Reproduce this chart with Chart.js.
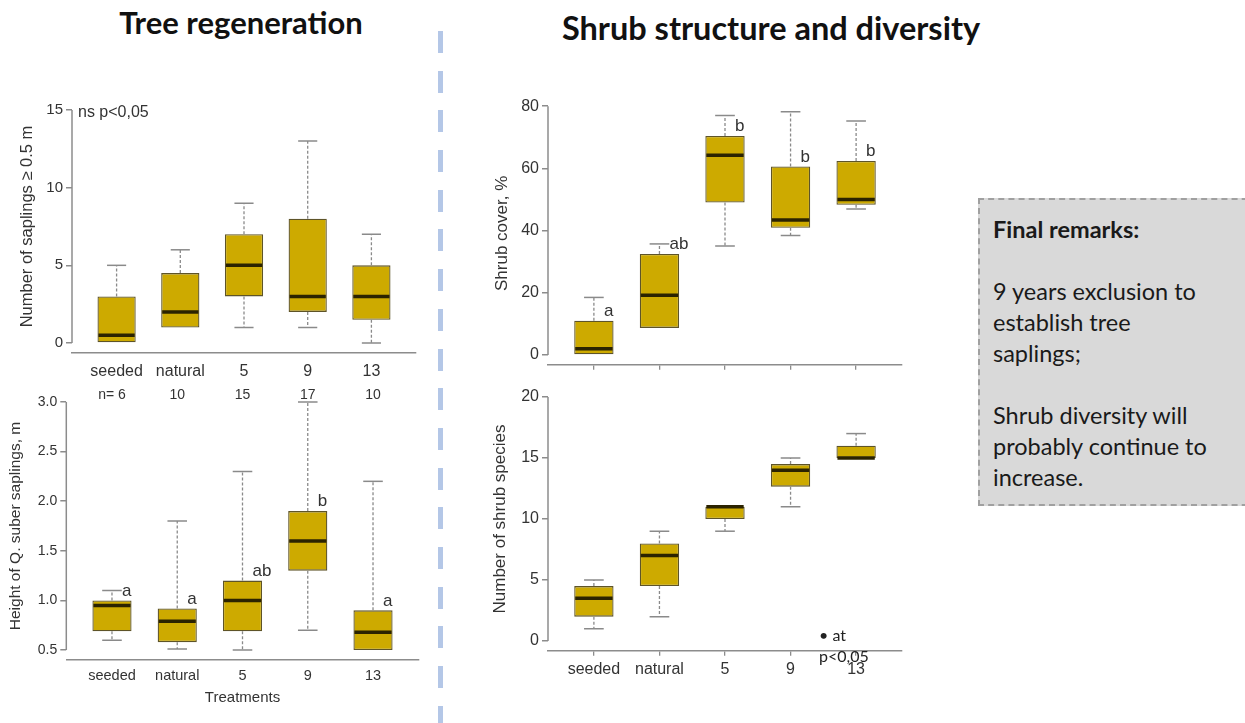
<!DOCTYPE html>
<html><head><meta charset="utf-8">
<script src="https://cdn.jsdelivr.net/npm/chart.js@4.4.1/dist/chart.umd.min.js"></script>
<style>
html,body{margin:0;padding:0;background:#fff;}
#page{position:relative;width:1245px;height:723px;overflow:hidden;background:#fff;font-family:"Liberation Sans",Arial,sans-serif;}
canvas.full{position:absolute;left:0;top:0;}
.title{position:absolute;font-family:Lato,"Open Sans",sans-serif;font-weight:700;color:#111;white-space:nowrap;transform:translate(-50%,-50%);}
#sep{position:absolute;left:438px;top:31px;width:5px;height:692px;background:repeating-linear-gradient(to bottom,#b4c7e7 0,#b4c7e7 22px,transparent 22px,transparent 39.7px);}
#remarks{position:absolute;left:978px;top:198px;width:290px;height:308px;box-sizing:border-box;background:#d9d9d9;border:2px dashed #a0a0a0;padding:14px 0 0 13px;font-family:Lato,"Open Sans",sans-serif;font-size:23.5px;line-height:31px;color:#1a1a1a;white-space:pre-line;}
.note{position:absolute;color:#333;white-space:nowrap;}
</style></head>
<body>
<div id="page">
  <div class="title" style="left:241px;top:22px;font-size:31px;">Tree regeneration</div>
  <div class="title" style="left:771px;top:27px;font-size:32.5px;">Shrub structure and diversity</div>
  <div id="sep"></div>
  <canvas class="full" id="c1" width="1245" height="723"></canvas>
  <canvas class="full" id="c2" width="1245" height="723"></canvas>
  <canvas class="full" id="c3" width="1245" height="723"></canvas>
  <canvas class="full" id="c4" width="1245" height="723"></canvas>
  <div class="note" style="left:78px;top:103px;font-size:16px;line-height:18px;">ns p&lt;0,05</div>
  <div class="note" style="left:819px;top:624px;font-family:Lato,'Open Sans',sans-serif;font-size:16px;line-height:21px;color:#222;">• at<br>p&lt;0,05</div>
  <div id="remarks"><b>Final remarks:</b>

9 years exclusion to
establish tree
saplings;

Shrub diversity will
probably continue to
increase.</div>
</div>
<script>
// ---------- data ----------
const categories = ['seeded', 'natural', '5', '9', '13'];

// Number of saplings >= 0.5 m
const saplingMin    = [0, 1, 1, 1, 0];
const saplingQ1     = [0, 1, 3, 2, 1.5];
const saplingMedian = [0.5, 2, 5, 3, 3];
const saplingQ3     = [3, 4.5, 7, 8, 5];
const saplingMax    = [5, 6, 9, 13, 7];
const saplingTicks  = [0, 5, 10, 15];

// Height of Q. suber saplings, m
const heightMin    = [0.6, 0.51, 0.5, 0.7, 0.5];
const heightQ1     = [0.69, 0.58, 0.69, 1.3, 0.5];
const heightMedian = [0.95, 0.79, 1.0, 1.6, 0.68];
const heightQ3     = [1.0, 0.92, 1.2, 1.9, 0.9];
const heightMax    = [1.1, 1.8, 2.3, 3.0, 2.2];
const heightLetters = ['a', 'a', 'ab', 'b', 'a'];
const heightCounts  = ['n= 6', '10', '15', '17', '10'];
const heightTicks   = [0.5, 1.0, 1.5, 2.0, 2.5, 3.0];

// Shrub cover, %
const coverMin    = [0, 8.7, 35, 38.4, 46.9];
const coverQ1     = [0, 8.7, 49, 40.9, 48.3];
const coverMedian = [2, 19.2, 64.2, 43.4, 50];
const coverQ3     = [11, 32.5, 70.4, 60.6, 62.4];
const coverMax    = [18.5, 35.7, 77, 78.2, 75.2];
const coverLetters = ['a', 'ab', 'b', 'b', 'b'];
const coverTicks   = [0, 20, 40, 60, 80];

// Number of shrub species
const speciesMin    = [1, 2, 9, 11, 15];
const speciesQ1     = [2, 4.5, 10, 12.65, 15];
const speciesMedian = [3.5, 7, 11, 14, 15];
const speciesQ3     = [4.5, 8, 11, 14.5, 16];
const speciesMax    = [5, 9, 11, 15, 17];
const speciesTicks  = [0, 5, 10, 15, 20];

// ---------- styles ----------
const PAGE_W = 1245, PAGE_H = 723;
const FONT = '"Liberation Sans", Arial, sans-serif';
const BOX = '#CDAA00', BOXLINE = '#5e5428', MED = '#2b2300';
const AXIS = '#8c8c8c', WHISK = '#8a8a8a', TXT = '#333333';

function rangeExt(lo, hi) { const d = (hi - lo) * 0.04; return [lo - d, hi + d]; }

function boxChart(id, s) {
  const plugin = {
    id: 'boxParts',
    afterDatasetsDraw(chart) {
      const ctx = chart.ctx, xs = chart.scales.x, ys = chart.scales.y, ca = chart.chartArea;
      const meta = chart.getDatasetMeta(0);
      ctx.save();
      // y axis line from first to last tick (R style)
      const tv = ys.ticks.map(t => t.value);
      ctx.strokeStyle = AXIS; ctx.lineWidth = 1.5; ctx.setLineDash([]);
      ctx.beginPath();
      ctx.moveTo(ca.left, ys.getPixelForValue(Math.min(...tv)));
      ctx.lineTo(ca.left, ys.getPixelForValue(Math.max(...tv)));
      ctx.stroke();
      meta.data.forEach((bar, i) => {
        const x = bar.x, w = bar.width, cap = w * 0.5;
        const pMin = ys.getPixelForValue(s.min[i]);
        const pQ1 = ys.getPixelForValue(s.q1[i]);
        const pMed = ys.getPixelForValue(s.med[i]);
        const pQ3 = ys.getPixelForValue(s.q3[i]);
        const pMax = ys.getPixelForValue(s.max[i]);
        // dashed whiskers
        ctx.strokeStyle = WHISK; ctx.lineWidth = 1.3; ctx.setLineDash([3, 2]);
        ctx.beginPath();
        if (s.max[i] > s.q3[i]) { ctx.moveTo(x, pQ3); ctx.lineTo(x, pMax); }
        if (s.min[i] < s.q1[i]) { ctx.moveTo(x, pQ1); ctx.lineTo(x, pMin); }
        ctx.stroke();
        // staples
        ctx.setLineDash([]); ctx.lineWidth = 1.5;
        ctx.beginPath();
        if (s.max[i] > s.q3[i]) { ctx.moveTo(x - cap / 2, pMax); ctx.lineTo(x + cap / 2, pMax); }
        if (s.min[i] < s.q1[i]) { ctx.moveTo(x - cap / 2, pMin); ctx.lineTo(x + cap / 2, pMin); }
        ctx.stroke();
        // median
        ctx.strokeStyle = MED; ctx.lineWidth = 3.5;
        ctx.beginPath(); ctx.moveTo(x - w / 2 + 1, pMed); ctx.lineTo(x + w / 2 - 1, pMed); ctx.stroke();
        // significance letters
        if (s.letters) {
          ctx.fillStyle = TXT; ctx.font = '17px ' + FONT;
          ctx.textAlign = 'left'; ctx.textBaseline = 'middle';
          ctx.fillText(s.letters[i], xs.getPixelForValue(i + 1) + 10, pQ3 - 9.5);
        }
        // sample sizes
        if (s.counts) {
          ctx.fillStyle = TXT; ctx.font = '14px ' + FONT;
          ctx.textAlign = 'center'; ctx.textBaseline = 'middle';
          ctx.fillText(s.counts[i], xs.getPixelForValue(i + 1), ca.top + 3);
        }
      });
      ctx.restore();
    }
  };

  return new Chart(document.getElementById(id), {
    type: 'bar',
    data: {
      datasets: [{
        data: categories.map((c, i) => ({ x: i + 1, y: [s.q1[i], s.q3[i]] })),
        backgroundColor: BOX, borderColor: BOXLINE, borderWidth: 1.3, borderSkipped: false,
        barPercentage: 0.6, categoryPercentage: 1
      }]
    },
    options: {
      responsive: false, animation: false, devicePixelRatio: 1,
      layout: { padding: { left: s.padLeft, top: s.area.top, right: PAGE_W - s.area.right, bottom: PAGE_H - s.area.bottom - s.xH } },
      plugins: { legend: { display: false }, tooltip: { enabled: false } },
      scales: {
        x: {
          type: 'linear', min: 0.3, max: 5.7, offset: false, bounds: 'data',
          afterFit(sc) { sc.height = s.xH; },
          afterBuildTicks(sc) { sc.ticks = categories.map((c, i) => ({ value: i + 1 })); },
          ticks: { autoSkip: false, maxRotation: 0, padding: s.xPad, color: TXT,
                   font: { family: FONT, size: s.xFont },
                   callback: v => s.xLabels ? categories[Math.round(v) - 1] : '' },
          grid: { offset: false, drawOnChartArea: false, drawTicks: s.xTick > 0, tickLength: s.xTick, color: AXIS, lineWidth: 1.3 },
          border: { display: true, color: AXIS, width: 1.5 },
          title: s.xTitle ? { display: true, text: s.xTitle, padding: 0, color: TXT, font: { family: FONT, size: 15 } } : { display: false }
        },
        y: {
          type: 'linear', min: s.yRange[0], max: s.yRange[1], bounds: 'data',
          afterFit(sc) { sc.width = s.area.left - s.padLeft; },
          afterBuildTicks(sc) { sc.ticks = s.ticks.map(v => ({ value: v })); },
          ticks: { autoSkip: false, padding: 3, color: TXT, font: { family: FONT, size: s.yFont },
                   callback: v => s.fmt ? v.toFixed(s.fmt) : String(v) },
          grid: { drawOnChartArea: false, drawTicks: true, tickLength: 6, color: AXIS, lineWidth: 1.5 },
          border: { display: false },
          title: { display: true, text: s.yTitle, padding: 0, color: TXT, font: { family: FONT, size: s.yTitleFont } }
        }
      }
    },
    plugins: [plugin]
  });
}

boxChart('c1', {
  min: saplingMin, q1: saplingQ1, med: saplingMedian, q3: saplingQ3, max: saplingMax,
  ticks: saplingTicks, yRange: rangeExt(0, 15),
  area: { left: 72, right: 416, top: 100.7, bottom: 352.3 }, padLeft: 18, xH: 40,
  xLabels: true, xFont: 16, xPad: 10, xTick: 0, yFont: 15, yTitleFont: 16.5,
  yTitle: 'Number of saplings \u2265 0.5 m'
});

boxChart('c2', {
  min: heightMin, q1: heightQ1, med: heightMedian, q3: heightQ3, max: heightMax,
  letters: heightLetters, counts: heightCounts,
  ticks: heightTicks, yRange: rangeExt(0.5, 3.0), fmt: 1,
  area: { left: 66.3, right: 418.7, top: 392, bottom: 660 }, padLeft: 6.5, xH: 47,
  xLabels: true, xFont: 14.5, xPad: 7, xTick: 0, yFont: 14, yTitleFont: 15.5,
  yTitle: 'Height of Q. suber saplings, m', xTitle: 'Treatments'
});

boxChart('c3', {
  min: coverMin, q1: coverQ1, med: coverMedian, q3: coverQ3, max: coverMax,
  letters: coverLetters,
  ticks: coverTicks, yRange: rangeExt(0, 78.2),
  area: { left: 548, right: 902, top: 102, bottom: 364.7 }, padLeft: 491.8, xH: 30,
  xLabels: false, xFont: 16, xPad: 3, xTick: 5, yFont: 16, yTitleFont: 17,
  yTitle: 'Shrub cover, %'
});

boxChart('c4', {
  min: speciesMin, q1: speciesQ1, med: speciesMedian, q3: speciesQ3, max: speciesMax,
  ticks: speciesTicks, yRange: rangeExt(0, 20),
  area: { left: 548, right: 902, top: 387.2, bottom: 650.8 }, padLeft: 489.8, xH: 40,
  xLabels: true, xFont: 16, xPad: 4, xTick: 5, yFont: 16, yTitleFont: 17,
  yTitle: 'Number of shrub species'
});
</script>
</body></html>
